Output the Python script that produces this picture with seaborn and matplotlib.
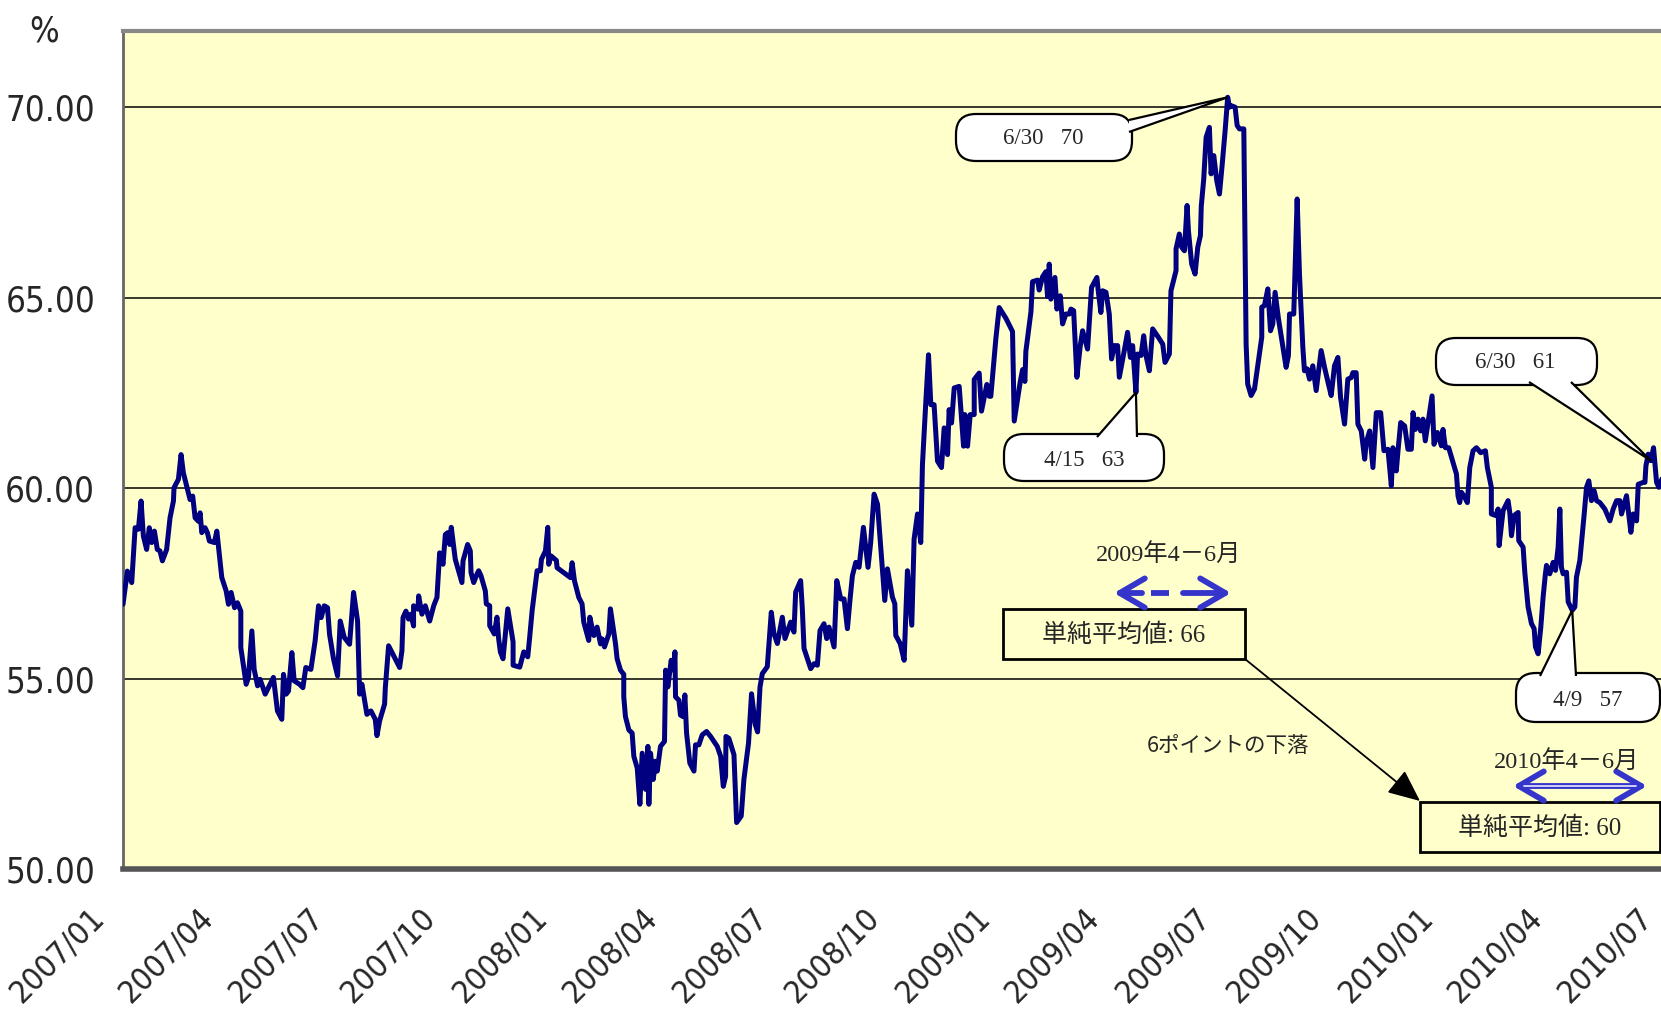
import numpy as np
import pandas as pd
import matplotlib
matplotlib.use("Agg")
import matplotlib.pyplot as plt
import matplotlib.dates as mdates
import seaborn as sns
from matplotlib import font_manager, transforms
from matplotlib.patches import FancyBboxPatch, Polygon, FancyArrowPatch
from matplotlib.lines import Line2D

# ---- data: days counted from 2007-01-01, ratio in % ----
START = "2007-01-01"
day_offset = [
    0, 3.6, 7.2, 10.0, 12.7, 14.9, 16.8, 19.5, 21.7, 23.7,
    25.9, 28.3, 30.5, 32.5, 36.0, 38.8, 41.6, 42.1, 45.7, 47.9,
    49.8, 55.3, 57.5, 59.5, 62.2, 63.6, 65.0, 67.7, 69.6, 71.3,
    75.4, 77.4, 81.5, 85.1, 87.0, 89.2, 92.0, 94.4, 97.2, 97.2,
    101.6, 103.5, 106.3, 108.2, 111.0, 113.1, 117.3, 124.1, 127.4, 131.0,
    132.4, 134.6, 136.5, 139.3, 141.2, 145.6, 148.4, 150.8, 155.0, 158.5,
    161.3, 163.5, 166.0, 168.7, 170.4, 173.7, 177.0, 179.2, 182.5, 186.9,
    190.2, 193.5, 195.2, 197.1, 201.2, 204.5, 208.1, 209.5, 211.7, 215.8,
    216.4, 219.1, 228.2, 230.1, 231.0, 233.4, 235.6, 237.5, 239.7, 239.7,
    243.3, 243.9, 246.6, 249.4, 253.0, 256.3,
    259.0, 261.2, 264.0, 265.9, 267.8, 269.5, 270.8, 274.1, 279.6, 280.5,
    284.3, 286.5, 287.1, 289.3, 292.0, 293.4, 295.3, 298.9, 299.7, 302.5,
    302.5, 306.3, 308.5, 309.9, 311.3, 313.5, 317.4, 321.8, 321.8, 327.3,
    330.6, 333.9, 335.5, 337.5, 341.6, 344.3, 345.2, 348.5, 350.4, 351.2,
    353.1, 357.5, 358.1, 369.1, 370.5, 372.4, 376.0, 378.7, 380.1, 384.2,
    385.1, 388.4, 391.1, 393.9, 395.3, 397.2, 400.8, 402.1, 406.3, 407.6,
    410.4, 413.1, 413.1, 414.5, 417.3, 420.0, 421.4, 424.2, 426.4, 428.3,
    431.1, 433.0, 433.8, 435.2, 437.4, 439.3, 440.7, 443.4, 446.7, 447.6,
    449.5, 452.2, 454.4, 455.3, 455.8, 458.6, 459.9, 462.1, 463.5, 464.9,
    467.6, 471.0, 472.3, 475.1, 477.8, 481.4, 484.7, 490.2, 493.0, 495.2,
    497.1, 497.4, 499.8, 504.0, 506.2, 510.0, 512.2, 516.0, 518.5, 521.5,
    523.5,
    525.5, 527.4, 531.5, 534.8, 537.0, 539.8, 543.9, 546.1, 550.8, 553.5,
    554.9, 559.0, 560.4, 561.8, 567.3, 570.1, 572.8, 575.0, 578.3, 580.5,
    582.4, 586.6, 588.8, 592.1, 594.8, 597.6, 599.8, 601.7, 604.5, 607.2,
    610.8, 614.6, 616.8, 619.6, 622.4, 625.1, 628.4, 630.6, 634.7, 636.7,
    637.5, 641.1, 644.4, 647.1, 650.7, 652.6, 655.4, 658.1, 659.5, 662.3,
    664.5, 666.4, 669.1, 671.9, 675.2, 677.4, 680.2, 681.5, 683.5, 685.7,
    689.8, 693.4, 694.5, 696.7, 698.9, 702.2, 702.2, 706.3, 708.2, 712.6,
    714.6, 715.9, 720.1, 722.8, 728.3, 733.8, 735.2, 740.2, 742.1, 744.0,
    744.8, 749.0, 750.3, 754.5, 755.8, 758.6, 761.3, 762.7, 764.1, 765.4,
    768.8, 770.4, 773.2, 775.1, 777.8, 780.6, 782.0, 784.2, 786.9, 789.7,
    791.6, 795.7, 799.0, 803.4, 804.5, 806.7, 808.1, 810.9, 813.6, 815.5,
    817.8, 820.5, 821.9, 826.0, 828.7, 831.0, 832.9, 835.6, 837.0, 839.8,
    842.0, 843.9, 846.7, 849.4, 854.1, 857.7, 859.6, 863.2, 864.5, 868.7,
    868.7, 871.4, 873.4, 875.6, 877.8, 878.9, 881.6, 884.4, 886.6, 888.8,
    889.5, 891.5, 893.5, 896.2, 897.6, 899.8, 902.3, 904.5, 906.7, 909.2,
    911.3, 912.7, 914.1, 917.4, 919.1, 921.0, 924.6, 926.5, 927.8, 930.6,
    933.4, 937.5, 939.4, 939.4, 941.6, 944.4, 946.6, 948.5, 950.4, 953.2,
    955.4, 957.3, 959.5, 961.4, 962.3, 965.8, 968.6, 970.5, 973.3, 974.6,
    976.8, 978.8, 981.5, 984.3, 988.4, 991.2, 994.4, 996.7, 999.4, 1002.2,
    1004.4, 1007.7, 1010.4,
    1013.2, 1014.6, 1017.3, 1018.7, 1021.5, 1024.3, 1025.6, 1028.4, 1031.1, 1033.9,
    1037.5, 1040.2, 1043.5, 1046.3, 1047.6, 1050.4, 1051.8, 1054.0, 1057.3, 1060.0,
    1062.8, 1064.2, 1066.1, 1068.3, 1070.5, 1072.4, 1074.3, 1076.6, 1079.9, 1081.5,
    1084.3, 1087.6, 1088.9, 1090.9, 1093.6, 1097.2, 1100.0, 1101.3, 1102.7, 1104.1,
    1106.8, 1109.0, 1111.0, 1113.7, 1116.5, 1120.0, 1123.9, 1125.5, 1128.8, 1128.8,
    1132.4, 1134.4, 1135.2, 1138.5, 1142.6, 1144.0, 1145.4, 1147.6, 1150.9, 1151.4,
    1155.0, 1156.4, 1159.1, 1161.9, 1164.1, 1165.2, 1167.4, 1169.6, 1171.5, 1173.4,
    1174.3, 1177.0, 1179.8, 1181.7, 1183.9, 1185.3, 1186.6, 1188.0, 1190.8, 1192.2,
    1195.5, 1197.7, 1199.0, 1201.8, 1205.4, 1207.3, 1209.2, 1211.4, 1213.6, 1215.6,
    1218.3, 1222.4, 1226.6, 1229.3, 1232.1, 1234.8, 1236.2, 1240.3, 1243.9, 1245.8,
    1248.6, 1250.0, 1254.1, 1255.5, 1256.3, 1258.2, 1260.4, 1262.6, 1265.1, 1267.0,
    1270.0,
]
ratio = [
    56.95, 57.82, 57.52, 58.96, 58.92, 59.66, 58.74, 58.39, 58.96, 58.57,
    58.87, 58.39, 58.35, 58.09, 58.39, 59.22, 59.66, 60.01, 60.23, 60.88,
    60.40, 59.70, 59.79, 59.22, 59.13, 59.35, 58.83, 58.96, 58.83, 58.61,
    58.57, 58.87, 57.65, 57.30, 56.95, 57.26, 56.86, 56.99, 56.77, 55.81,
    54.85, 55.03, 56.25, 55.24, 54.81, 54.98, 54.59, 55.03, 54.15, 53.93,
    55.11, 54.59, 54.67, 55.68, 54.94, 54.85, 54.76, 55.29, 55.24, 55.99,
    56.91, 56.60, 56.91, 56.86, 56.16, 55.51, 55.07, 56.51, 56.08, 55.90,
    57.26, 56.51, 54.59, 54.85, 54.06, 54.15, 53.93, 53.50, 53.89, 54.33,
    54.76, 55.86, 55.29, 55.73, 56.60, 56.77, 56.56, 56.69, 56.38, 56.91,
    56.82, 57.17, 56.69, 56.91, 56.51, 56.91,
    57.13, 58.30, 58.00, 58.78, 58.83, 58.52, 58.97, 58.13, 57.52, 58.09,
    58.52, 58.35, 57.78, 57.52, 57.74, 57.83, 57.70, 57.30, 56.96, 56.91,
    56.39, 56.17, 56.61, 56.04, 55.70, 55.52, 56.83, 55.96, 55.35, 55.30,
    55.70, 55.57, 56.09, 56.78, 57.83, 57.83, 58.13, 58.35, 58.97, 58.00,
    58.22, 58.10, 57.91, 57.65, 58.04, 57.57, 57.13, 56.96, 56.48, 56.00,
    56.61, 56.13, 56.35, 55.91, 56.04, 55.83, 56.17, 56.83, 55.91, 55.52,
    55.22, 55.11, 54.52, 54.00, 53.65, 53.57, 52.96, 52.65, 51.70, 53.04,
    52.09, 53.22, 51.70, 53.04, 52.35, 52.83, 52.57, 53.22, 53.35, 55.22,
    54.78, 55.48, 55.22, 55.70, 54.52, 54.43, 54.04, 54.00, 54.57, 53.57,
    52.78, 52.57, 53.26, 53.26, 53.52, 53.61, 53.48, 53.22, 52.96, 52.17,
    52.43, 53.48, 53.43, 53.00, 51.22, 51.39, 52.35, 53.30, 54.60, 53.80,
    53.60,
    54.78, 55.13, 55.31, 56.74, 56.18, 55.92, 56.61, 56.05, 56.48, 56.22,
    57.27, 57.57, 56.83, 55.79, 55.26, 55.39, 55.35, 56.26, 56.44, 56.05,
    56.35, 55.83, 57.57, 57.09, 57.09, 56.31, 57.09, 57.70, 58.05, 57.92,
    58.97, 57.92, 58.57, 59.84, 59.58, 58.44, 57.05, 57.88, 57.14, 56.96,
    56.13, 55.92, 55.48, 57.83, 56.40, 58.66, 59.32, 58.57, 60.62, 62.28,
    63.50, 62.19, 62.19, 60.71, 60.54, 61.58, 60.88, 62.06, 61.71, 62.63,
    62.67, 61.10, 61.93, 61.10, 61.93, 61.93, 62.85, 63.02, 62.02, 62.72,
    62.41, 62.41, 63.94, 64.74, 64.46, 64.11, 61.76, 62.80, 63.11, 62.80,
    63.59, 64.63, 65.42, 65.46, 65.20, 65.55, 65.68, 65.03, 65.88, 64.96,
    65.53, 64.70, 65.05, 64.31, 64.57, 64.57, 64.70, 64.66, 62.91, 63.74,
    64.13, 63.65, 65.27, 65.53, 65.18, 64.61, 65.18, 65.14, 64.57, 63.39,
    63.74, 63.74, 62.91, 63.61, 64.09, 63.43, 63.74, 62.51, 63.52, 63.48,
    64.00, 63.48, 63.08, 64.18, 63.96, 63.78, 63.30, 63.52, 65.18, 65.71,
    66.28, 66.67, 66.32, 66.23, 67.42, 66.76, 65.88, 65.62, 66.32, 66.63,
    67.40, 68.10, 69.21, 69.47, 68.25, 68.73, 68.07, 67.72, 68.47, 69.39,
    70.26, 70.00, 70.04, 70.00, 69.52, 69.43, 69.43, 63.78, 62.73, 62.43,
    62.60, 63.52, 63.96, 64.75, 64.79, 65.23, 64.13, 64.31, 65.14, 64.44,
    64.00, 63.61, 63.17, 63.48, 64.57, 64.57, 67.59, 65.62, 63.69, 63.08,
    63.13, 62.86, 63.21, 62.56, 63.61, 63.17, 62.73, 62.43, 63.21, 63.43,
    62.38, 61.68, 62.86,
    62.90, 63.03, 63.03, 61.68, 61.50, 60.76, 61.20, 61.50, 60.54, 61.98,
    61.98, 60.98, 61.02, 60.06, 61.06, 60.45, 60.98, 61.72, 61.63, 61.02,
    61.02, 61.98, 61.54, 61.81, 61.50, 61.81, 61.24, 61.72, 62.42, 61.15,
    61.46, 61.11, 61.54, 61.06, 61.06, 60.67, 60.37, 59.80, 59.62, 59.89,
    59.76, 59.62, 60.54, 60.98, 61.06, 60.93, 60.98, 60.54, 60.02, 59.32,
    59.28, 59.45, 58.49, 59.41, 59.67, 59.36, 58.75, 59.28, 59.36, 58.62,
    58.45, 57.79, 56.88, 56.44, 56.31, 55.83, 55.65, 56.35, 57.14, 57.75,
    57.97, 57.75, 58.05, 57.84, 58.45, 59.45, 57.92, 57.75, 57.79, 57.01,
    56.79, 56.88, 57.66, 58.10, 59.32, 60.02, 60.19, 59.67, 59.93, 59.67,
    59.62, 59.45, 59.14, 59.45, 59.67, 59.67, 59.32, 59.80, 58.84, 59.32,
    59.14, 60.10, 60.15, 60.15, 60.58, 60.89, 60.72, 61.06, 60.15, 60.02,
    60.28,
]
assert len(day_offset) == len(ratio)

y_ticks = [50, 55, 60, 65, 70]
callout_labels = ["6/30   70", "4/15   63", "6/30   61", "4/9   57"]
callout_dates = ["2009-06-30", "2009-04-15", "2010-06-14", "2010-04-09"]
period_labels = ["2009年4－6月", "2010年4－6月"]
mean_labels = ["単純平均値: 66", "単純平均値: 60"]
drop_label = "6ポイントの下落"

# ---- fonts ----
sns.set_style("white")
fonts = font_manager.fontManager.ttflist
condensed = [f for f in fonts if f.stretch in ("condensed", "semi-condensed",
                                               "extra-condensed")
             and "Sans" in f.name and f.style == "normal"]
names = {f.name for f in fonts}
if "Liberation Sans Narrow" in names:
    axis_font = dict(family="Liberation Sans Narrow")
    ysize, xsize = 26, 25
elif condensed:
    axis_font = dict(family=condensed[0].name, stretch=condensed[0].stretch)
    ysize, xsize = 25, 23
else:
    axis_font = dict(family="Liberation Sans")
    ysize, xsize = 24, 21
plt.rcParams["font.family"] = ["DejaVu Sans", "Noto Sans CJK JP"]
serif_jp = ["Liberation Serif", "Noto Sans CJK JP"]

W, H = 1661, 1010
fig = plt.figure(figsize=(W / 100, H / 100), dpi=100)
fig.patch.set_facecolor("white")

# axes extends a bit past the right edge, like the cropped original
ax_left, ax_right, ax_top, ax_bottom = 123, 1671, 31, 869
ax = fig.add_axes([ax_left / W, 1 - ax_bottom / H,
                   (ax_right - ax_left) / W, (ax_bottom - ax_top) / H])
ax.set_facecolor("#FFFFCC")

df = pd.DataFrame({
    "date": pd.Timestamp(START) + pd.to_timedelta(day_offset, unit="D"),
    "ratio": ratio,
})
sns.lineplot(data=df, x="date", y="ratio", ax=ax, color="#000080",
             linewidth=3.6, estimator=None, sort=False, zorder=3)

ax.set_xlim(pd.Timestamp("2007-01-01"), pd.Timestamp("2010-07-01"))
ax.set_ylim(50, 72)
ax.set_xlabel("")
ax.set_ylabel("")

# ticks
ax.set_xticks(pd.date_range("2007-01-01", "2010-07-01", freq="QS"))
ax.xaxis.set_major_formatter(mdates.DateFormatter("%Y/%m"))
ax.set_yticks(y_ticks)
ax.set_yticklabels([f"{v:.2f}" for v in y_ticks])
ax.tick_params(axis="x", direction="in", length=8, width=1, color="#555555",
               pad=24, labelsize=xsize)
ax.tick_params(axis="y", direction="in", length=5, width=1.2, color="#333333",
               pad=20, labelsize=ysize)
shift = transforms.ScaledTranslation(-12 / 100, 0, fig.dpi_scale_trans)
for lab in ax.get_xticklabels():
    lab.set_rotation(45)
    lab.set_ha("right")
    lab.set_va("top")
    lab.update(axis_font)
    lab.set_transform(lab.get_transform() + shift)
for lab in ax.get_yticklabels():
    lab.update(axis_font)

ax.yaxis.grid(True, color="black", linewidth=1.1)
ax.xaxis.grid(False)
ax.set_axisbelow(True)

ax.spines["left"].set_color("#666666")
ax.spines["left"].set_linewidth(2)
ax.spines["top"].set_color("#888888")
ax.spines["top"].set_linewidth(3)
ax.spines["bottom"].set_color("#555555")
ax.spines["bottom"].set_linewidth(4)
ax.spines["right"].set_visible(False)

fig.text(44 / W, 1 - 32 / H, "%", ha="center", va="center",
         fontsize=ysize, **axis_font)


# ---- annotation helpers (pixel coords, origin top-left) ----
def fx(x, y):
    return (x / W, 1 - y / H)


def data_px(date, value):
    d = ax.transData.transform((mdates.date2num(pd.Timestamp(date)), value))
    return d[0], H - d[1]


def nearest(date):
    day = (pd.Timestamp(date) - pd.Timestamp(START)).days
    i = int(np.argmin(np.abs(np.array(day_offset) - day)))
    return df["date"][i], ratio[i]


def callout(box, base, tip, label, tcenter):
    x0, y0, x1, y1 = box
    patch = FancyBboxPatch(fx(x0, y1), (x1 - x0) / W, (y1 - y0) / H,
                           boxstyle="round,pad=0,rounding_size=0.012",
                           mutation_aspect=W / H, transform=fig.transFigure,
                           fc="white", ec="black", lw=1.6, zorder=5)
    fig.add_artist(patch)
    wedge = Polygon([fx(*base[0]), fx(*tip), fx(*base[1])], closed=False,
                    transform=fig.transFigure, fc="white", ec="black",
                    lw=1.6, zorder=6)
    fig.add_artist(wedge)
    fig.text(*fx(*tcenter), label, ha="center", va="center", fontsize=16.5,
             family=serif_jp, zorder=8)


# peak 6/30 70
peak_i = int(np.argmax(ratio))
tip1 = data_px(df["date"][peak_i], ratio[peak_i])
callout((956, 114, 1132, 161), [(1129, 120), (1129, 132)], tip1,
        callout_labels[0], (1043, 139))
tip2 = data_px(*nearest(callout_dates[1]))
callout((1004, 434, 1164, 481), [(1097, 437), (1137, 437)], tip2,
        callout_labels[1], (1084, 460))
tip3 = data_px(*nearest(callout_dates[2]))
callout((1436, 338, 1597, 385), [(1529, 382), (1571, 382)], tip3,
        callout_labels[2], (1515, 362))
tip4 = data_px(*nearest(callout_dates[3]))
callout((1516, 673, 1660, 722), [(1540, 676), (1576, 676)], tip4,
        callout_labels[3], (1588, 700))

blue = "#3535cc"

# 2009 period: dashed double arrow
fig.text(*fx(1169, 555), period_labels[0], ha="center", va="center",
         fontsize=17.5, family=serif_jp, zorder=8)
head_style = "->,head_length=0.6,head_width=0.35"
fig.add_artist(FancyArrowPatch(fx(1142, 593), fx(1114, 593), transform=fig.transFigure,
                               arrowstyle=head_style, mutation_scale=30, lw=4.2,
                               color=blue, shrinkA=0, shrinkB=0, zorder=7))
fig.add_artist(Line2D([1151 / W, 1169 / W], [1 - 593 / H] * 2, transform=fig.transFigure,
                      color=blue, lw=4.2, solid_capstyle="butt", zorder=7))
fig.add_artist(FancyArrowPatch(fx(1183, 593), fx(1231, 593), transform=fig.transFigure,
                               arrowstyle=head_style, mutation_scale=30, lw=4.2,
                               color=blue, shrinkA=0, shrinkB=0, zorder=7))

# mean boxes
for (x0, y0, x1, y1), lab in zip([(1003, 609, 1245, 659), (1420, 802, 1660, 852)],
                                 mean_labels):
    fig.add_artist(FancyBboxPatch(fx(x0, y1), (x1 - x0) / W, (y1 - y0) / H,
                                  boxstyle="square,pad=0", transform=fig.transFigure,
                                  fc="#FFFFCC", ec="black", lw=2, zorder=5))
    fig.text(*fx((x0 + x1) / 2, (y0 + y1) / 2 + 1), lab, ha="center", va="center",
             fontsize=18, family=serif_jp, zorder=8)

# black arrow between the two means
fig.add_artist(FancyArrowPatch(fx(1245, 659), fx(1420, 801), transform=fig.transFigure,
                               arrowstyle="-|>,head_length=0.9,head_width=0.4",
                               mutation_scale=22, lw=1.3, color="black",
                               shrinkA=0, shrinkB=0, zorder=7))
fig.text(*fx(1228, 746), drop_label, ha="center", va="center", fontsize=15.5,
         family=["Noto Sans CJK JP"], zorder=8)

# 2010 period: double-line double arrow
fig.text(*fx(1567, 762), period_labels[1], ha="center", va="center",
         fontsize=17.5, family=serif_jp, zorder=8)
fig.add_artist(FancyArrowPatch(fx(1513, 786), fx(1647, 786), transform=fig.transFigure,
                               arrowstyle="<->,head_length=0.6,head_width=0.35",
                               mutation_scale=30, lw=4.2, color=blue,
                               shrinkA=0, shrinkB=0, zorder=7))
fig.add_artist(Line2D([1524 / W, 1636 / W], [1 - 786 / H] * 2, transform=fig.transFigure,
                      color="#dcdcff", lw=1.3, zorder=8))

fig.savefig("out.png", dpi=100)
